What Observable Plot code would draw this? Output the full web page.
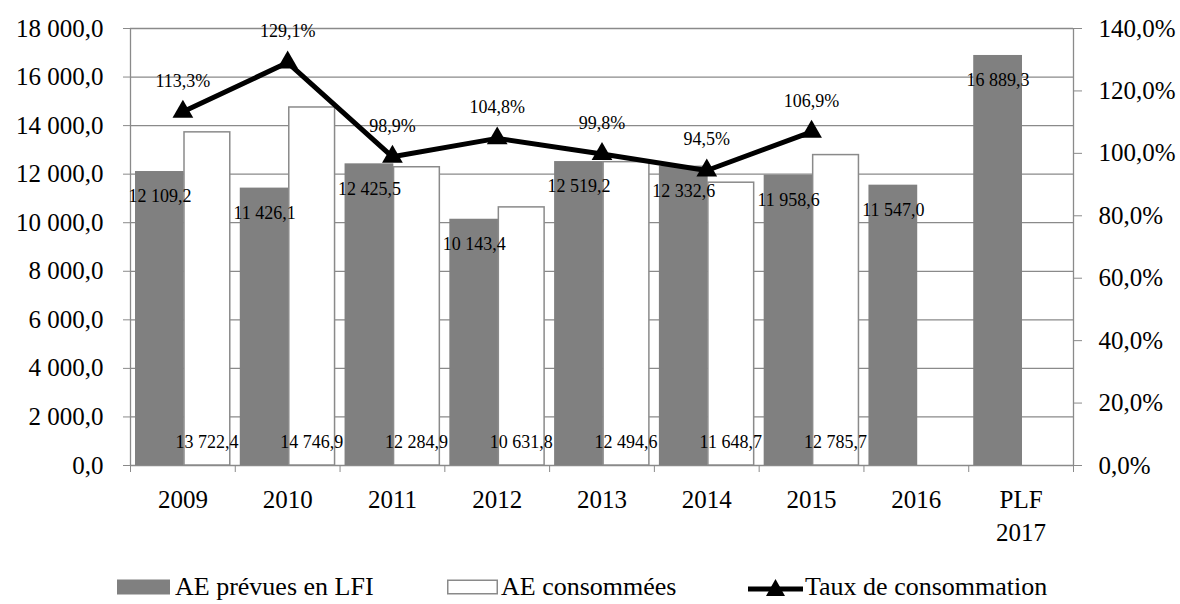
<!DOCTYPE html>
<html>
<head>
<meta charset="utf-8">
<script src="https://cdn.jsdelivr.net/npm/d3@7"></script>
<script src="https://cdn.jsdelivr.net/npm/@observablehq/plot@0.6"></script>
<style>
  html, body { margin: 0; padding: 0; background: white; }
  #wrap { width: 1180px; font-family: "Liberation Serif", serif; color: black; }
  #legend { position: relative; width: 1180px; height: 49px; font-family: "Liberation Serif", serif; font-size: 26px; }
  .item { position: absolute; top: 17px; height: 30px; line-height: 30px; display: flex; align-items: center; white-space: nowrap; }
  .item svg { display: block; }
</style>
</head>
<body>
<div id="wrap"></div>
<script>
// ---- data ----
const years = ["2009", "2010", "2011", "2012", "2013", "2014", "2015", "2016", "PLF\n2017"];
const aeLfi = [12109.2, 11426.1, 12425.5, 10143.4, 12519.2, 12332.6, 11958.6, 11547.0, 16889.3];
const aeConso = [13722.4, 14746.9, 12284.9, 10631.8, 12494.6, 11648.7, 12785.7, null, null];
const taux = [113.3, 129.1, 98.9, 104.8, 99.8, 94.5, 106.9, null, null];
const leftTicks = [0, 2000, 4000, 6000, 8000, 10000, 12000, 14000, 16000, 18000];
const rightTicks = [0, 20, 40, 60, 80, 100, 120, 140];
const seriesNames = ["AE prévues en LFI", "AE consommées", "Taux de consommation"];

// ---- helpers ----
const loc = d3.formatLocale({decimal: ",", thousands: "\u00a0", grouping: [3], currency: ["", ""]});
const fmtNum = loc.format(",.1f");
const fmtP = loc.format(".1f");
const yMax = 18000, pMax = 140;
const toY = p => p * yMax / pMax;

const rows = years.map((year, i) => ({year, lfi: aeLfi[i], conso: aeConso[i], taux: taux[i]}));
const consoRows = rows.filter(d => d.conso != null);
const tauxRows = rows.filter(d => d.taux != null);

const W = 1180, H = 555;
const mL = 130, mR = 107, mT = 28, mB = 90;
const bw = (W - mL - mR) / years.length;
const gray = "#808080", lineGray = "#8a8a8a";

const chart = Plot.plot({
  width: W, height: H,
  marginLeft: mL, marginRight: mR, marginTop: mT, marginBottom: mB,
  style: {fontFamily: "Liberation Serif", fontSize: "25px", background: "white", color: "black"},
  x: {type: "band", domain: years, padding: 0, round: false},
  y: {domain: [0, yMax]},
  marks: [
    Plot.gridY(leftTicks, {stroke: lineGray, strokeOpacity: 1, strokeWidth: 1.3}),
    Plot.barY(rows, {x: "year", y: "lfi", fill: gray, insetLeft: 5, insetRight: 51}),
    Plot.barY(consoRows, {x: "year", y: "conso", fill: "white", stroke: lineGray, strokeWidth: 1.5, insetLeft: 54, insetRight: 5}),
    Plot.ruleX([years[0]], {x: d => d, y1: 0, y2: yMax, dx: -bw / 2, stroke: lineGray, strokeWidth: 1.3}),
    Plot.ruleX([years[years.length - 1]], {x: d => d, y1: 0, y2: yMax, dx: bw / 2, stroke: lineGray, strokeWidth: 1.3}),
    Plot.line(tauxRows, {x: "year", y: d => toY(d.taux), stroke: "black", strokeWidth: 5}),
    Plot.dot(tauxRows, {x: "year", y: d => toY(d.taux), symbol: "triangle", r: 7.7, fill: "black"}),
    Plot.text(rows, {x: "year", y: "lfi", text: d => fmtNum(d.lfi), dx: -23, dy: 25, fontSize: 18, fill: "black"}),
    Plot.text(consoRows, {x: "year", y: 0, text: d => fmtNum(d.conso), dx: 24, dy: -23, fontSize: 18, fill: "black"}),
    Plot.text(tauxRows, {x: "year", y: d => toY(d.taux), text: d => fmtP(d.taux) + "%", dy: -31, fontSize: 18, fill: "black"}),
    Plot.axisY({ticks: leftTicks, tickFormat: fmtNum, tickSize: 7, tickPadding: 20, stroke: lineGray, fill: "black", fontSize: 25, label: null}),
    Plot.axisY({anchor: "right", ticks: rightTicks.map(toY), tickFormat: v => fmtP(v * pMax / yMax) + "%", tickSize: 8, tickPadding: 17, stroke: lineGray, fill: "black", fontSize: 25, label: null}),
    Plot.axisX({tickSize: 7, dx: -bw / 2, tickFormat: () => "", stroke: lineGray, label: null}),
    Plot.axisX({ticks: [years[years.length - 1]], tickSize: 7, dx: bw / 2, tickFormat: () => "", stroke: lineGray, label: null}),
    Plot.axisX({tickSize: 0, tickPadding: 19, fontSize: 25, lineHeight: 1.32, fill: "black", label: null})
  ]
});

const wrap = document.getElementById("wrap");
wrap.appendChild(chart);

// ---- legend ----
const legend = document.createElement("div");
legend.id = "legend";
const items = [
  {left: 117, gap: 5, svg: `<svg width="53" height="16"><rect x="0" y="0.5" width="53" height="15" fill="${gray}"/></svg>`},
  {left: 447, gap: 3, svg: `<svg width="51" height="16"><rect x="0.75" y="1.25" width="49.5" height="13.5" fill="white" stroke="${lineGray}" stroke-width="1.5"/></svg>`},
  {left: 748, gap: 2, svg: `<svg width="55" height="22"><line x1="0" x2="55" y1="13" y2="13" stroke="black" stroke-width="5"/><path d="M27.5,3 L37,20 L18,20 Z" fill="black"/></svg>`}
];
items.forEach((it, i) => {
  const el = document.createElement("div");
  el.className = "item";
  el.style.left = it.left + "px";
  el.innerHTML = it.svg + `<span style="margin-left:${it.gap}px">${seriesNames[i]}</span>`;
  legend.appendChild(el);
});
wrap.appendChild(legend);
</script>
</body>
</html>
